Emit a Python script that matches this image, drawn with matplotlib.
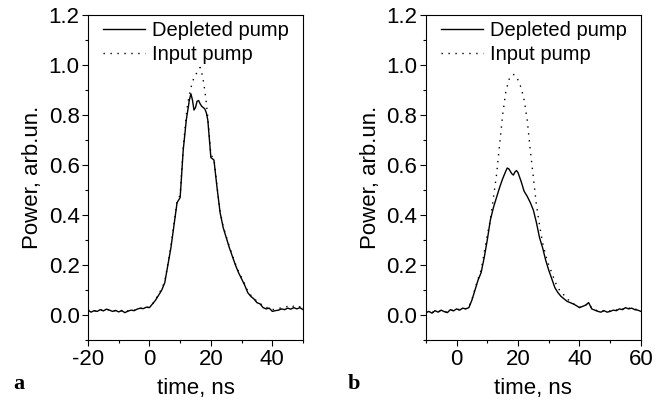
import numpy as np
import matplotlib
matplotlib.use("Agg")
from matplotlib import pyplot as plt

# panel a: time (ns) and powers (arb. units)
t_a = [-20, -19, -18, -17, -16, -15, -14, -13, -12, -11, -10, -9, -8, -7, -6, -5, -4, -3, -2, -1,
       0, 1, 2, 3, 4, 5, 6, 7, 8, 9, 10, 11, 12, 12.5, 13, 13.5, 14, 14.5, 15, 15.5, 16, 16.5,
       17, 17.5, 18, 18.5, 19, 20, 21, 22, 23, 24, 25, 26, 27, 28, 29, 30, 31, 32, 33, 34, 35,
       36, 37, 38, 39, 40, 41, 42, 43, 44, 45, 46, 47, 48, 49, 50]
depleted_a = [0.020, 0.012, 0.018, 0.015, 0.022, 0.017, 0.024, 0.020, 0.015, 0.019, 0.013, 0.018,
              0.010, 0.016, 0.020, 0.018, 0.024, 0.028, 0.026, 0.032,
              0.030, 0.045, 0.060, 0.080, 0.100, 0.130, 0.200, 0.270, 0.360, 0.450, 0.470, 0.660,
              0.780, 0.820, 0.860, 0.885, 0.860, 0.820, 0.830, 0.855, 0.858, 0.845,
              0.835, 0.830, 0.825, 0.810, 0.780, 0.630, 0.620, 0.510, 0.410, 0.350, 0.310, 0.270,
              0.235, 0.200, 0.170, 0.145, 0.120, 0.090, 0.075, 0.065, 0.050,
              0.045, 0.030, 0.025, 0.028, 0.015, 0.018, 0.020, 0.025, 0.022, 0.028, 0.024, 0.030,
              0.025, 0.030, 0.022]
input_a = [0.022, 0.014, 0.017, 0.016, 0.021, 0.018, 0.023, 0.021, 0.016, 0.018, 0.014, 0.019,
           0.012, 0.017, 0.019, 0.019, 0.023, 0.027, 0.027, 0.031,
           0.032, 0.044, 0.062, 0.085, 0.105, 0.135, 0.205, 0.275, 0.365, 0.455, 0.480, 0.670,
           0.800, 0.850, 0.880, 0.910, 0.930, 0.950, 0.960, 0.970, 0.980, 0.990,
           0.970, 0.940, 0.900, 0.850, 0.790, 0.640, 0.625, 0.515, 0.415, 0.355, 0.315, 0.275,
           0.240, 0.205, 0.175, 0.150, 0.125, 0.095, 0.080, 0.068, 0.055,
           0.048, 0.035, 0.030, 0.030, 0.022, 0.024, 0.026, 0.030, 0.032, 0.035, 0.030, 0.036,
           0.030, 0.034, 0.028]

# panel b
t_b = [-10, -9, -8, -7, -6, -5, -4, -3, -2, -1, 0, 1, 2, 3, 4, 5, 6, 7, 8, 9, 10, 11, 12, 13,
       14, 15, 16, 16.5, 17, 17.5, 18, 18.5, 19, 19.5, 20, 21, 22, 23, 24, 25, 26, 27, 28, 29,
       30, 31, 32, 33, 34, 35, 36, 37, 38, 39, 40, 41, 42, 43, 44, 45, 46, 47, 48, 49, 50, 51,
       52, 53, 54, 55, 56, 57, 58, 59, 60]
depleted_b = [0.010, 0.015, 0.008, 0.018, 0.012, 0.020, 0.014, 0.010, 0.022, 0.017, 0.025, 0.020,
              0.028, 0.025, 0.030, 0.060, 0.100, 0.140, 0.170, 0.230, 0.300, 0.380, 0.430, 0.470,
              0.510, 0.545, 0.575, 0.588, 0.585, 0.575, 0.565, 0.560, 0.572, 0.578, 0.570, 0.535,
              0.495, 0.475, 0.450, 0.420, 0.370, 0.310, 0.270, 0.220,
              0.180, 0.145, 0.110, 0.090, 0.075, 0.065, 0.055, 0.050, 0.045, 0.038, 0.030, 0.035,
              0.040, 0.050, 0.025, 0.020, 0.015, 0.012, 0.018, 0.012, 0.015, 0.020,
              0.018, 0.025, 0.022, 0.030, 0.025, 0.028, 0.022, 0.020, 0.015]
input_b = [0.012, 0.014, 0.010, 0.017, 0.013, 0.019, 0.015, 0.012, 0.021, 0.018, 0.024, 0.022,
           0.027, 0.026, 0.032, 0.062, 0.105, 0.145, 0.180, 0.250, 0.320, 0.380, 0.470, 0.560,
           0.680, 0.800, 0.890, 0.915, 0.940, 0.952, 0.960, 0.962, 0.960, 0.955, 0.940, 0.910,
           0.860, 0.780, 0.660, 0.550, 0.440, 0.360, 0.290, 0.240,
           0.200, 0.170, 0.135, 0.110, 0.090, 0.080, 0.065, 0.055, 0.045, 0.040, 0.032, 0.036,
           0.040, 0.048, 0.028, 0.022, 0.017, 0.014, 0.019, 0.014, 0.017, 0.021,
           0.020, 0.026, 0.024, 0.031, 0.027, 0.030, 0.024, 0.022, 0.017]

plt.rcParams['font.family'] = ['Liberation Sans', 'DejaVu Sans']
plt.rcParams['axes.unicode_minus'] = False
fs = 16

fig = plt.figure(figsize=(6.69, 4.04), dpi=100)
ax_a = fig.add_axes([0.1315, 0.158, 0.3215, 0.805])
ax_b = fig.add_axes([0.6365, 0.158, 0.3215, 0.805])

panels = [(ax_a, t_a, depleted_a, input_a, (-20, 50), [-20, 0, 20, 40], 'a', 0.02),
          (ax_b, t_b, depleted_b, input_b, (-10, 60), [0, 20, 40, 60], 'b', 0.52)]

for ax, t, dep, inp, xlim, xt, tag, tag_x in panels:
    ax.plot(t, dep, color='black', lw=1.0, label='Depleted pump')
    ax.plot(t, inp, color='black', lw=1.0, ls=(0, (1, 4)), label='Input pump')
    ax.set_xlim(*xlim)
    ax.set_ylim(-0.1, 1.2)
    ax.set_xticks(xt)
    ax.set_xticks(np.arange(xlim[0], xlim[1] + 1, 10), minor=True)
    ax.set_yticks([0.0, 0.2, 0.4, 0.6, 0.8, 1.0, 1.2])
    ax.set_yticks(np.arange(-0.1, 1.21, 0.1), minor=True)
    ax.yaxis.set_major_formatter(matplotlib.ticker.FormatStrFormatter('%.1f'))
    ax.tick_params(which='major', direction='out', length=4, width=0.8, labelsize=fs, pad=2)
    ax.tick_params(which='minor', direction='out', length=2, width=0.8)
    for s in ax.spines.values():
        s.set_linewidth(0.8)
    ax.set_xlabel('time, ns', fontsize=fs, labelpad=6)
    ax.set_ylabel('Power, arb.un.', fontsize=fs, labelpad=4)
    ax.legend(loc='upper left', bbox_to_anchor=(0.06, 0.988), frameon=False, fontsize=14.5,
              borderpad=0.1, borderaxespad=0, handlelength=2.1, handletextpad=0.35,
              labelspacing=0.25)
    fig.text(tag_x, 0.038, tag, fontsize=fs, fontweight='bold',
             family=['Liberation Serif', 'DejaVu Serif'])

fig.savefig('out.png', dpi=100)
